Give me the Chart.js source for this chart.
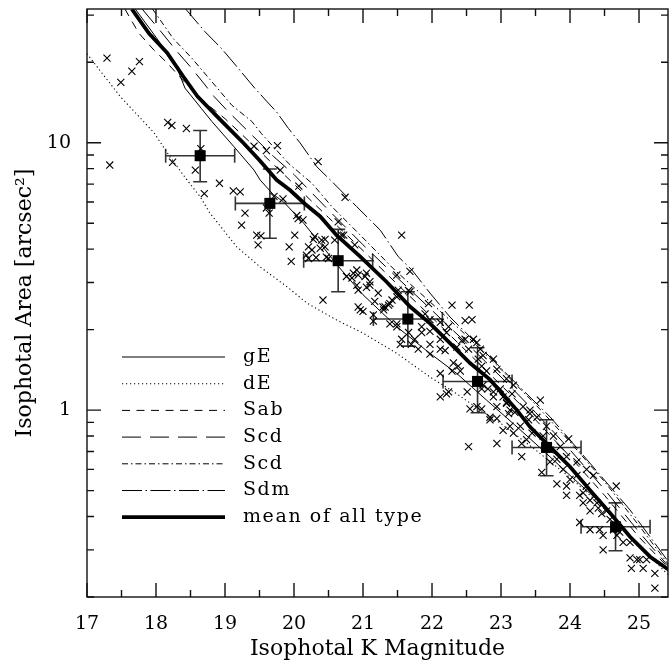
<!DOCTYPE html>
<html>
<head>
<meta charset="utf-8">
<script src="https://cdn.jsdelivr.net/npm/chart.js@4.4.1/dist/chart.umd.min.js"></script>
<style>
  html, body { margin: 0; padding: 0; background: #fff; }
  #wrap { width: 669px; height: 662px; }
</style>
</head>
<body>
<div id="wrap"><canvas id="chart" width="669" height="662"></canvas></div>
<script>
// ---- values ----

// axis ticks
const xTickValues = [17, 17.5, 18, 18.5, 19, 19.5, 20, 20.5, 21, 21.5, 22, 22.5, 23, 23.5, 24, 24.5, 25];
const xLabelled = [17, 18, 19, 20, 21, 22, 23, 24, 25];
const yTickValues = [0.2, 0.3, 0.4, 0.5, 0.6, 0.7, 0.8, 0.9, 1, 2, 3, 4, 5, 6, 7, 8, 9, 10, 20, 30];
const yLabelled = [1, 10];

// legend text, same order as the model curves below
const legendLabels = ['gE', 'dE', 'Sab', 'Scd', 'Scd', 'Sdm', 'mean of all type'];

// model curves: K magnitude vs isophotal area
const gEK = [17.7, 18.0, 18.18, 18.32, 18.42, 18.66, 18.81, 19.13, 19.42, 19.51, 19.7, 19.85, 20.14, 20.38, 20.62, 21.0, 21.49, 21.97, 22.36, 22.79, 23.2, 23.6, 24.0, 24.4, 24.8, 25.1, 25.44];
const gEArea = [31.6, 24.8, 21.3, 18.6, 16.0, 13.4, 12.0, 9.66, 7.9, 7.25, 6.4, 6.0, 5.0, 4.2, 3.5, 2.7, 2.05, 1.63, 1.37, 1.09, 0.88, 0.71, 0.57, 0.46, 0.35, 0.29, 0.25];

const dEK = [17.0, 17.48, 17.97, 18.2, 18.45, 18.64, 18.78, 19.17, 19.51, 19.9, 20.19, 20.62, 21.0, 21.49, 21.97, 22.36, 22.7, 23.0, 23.5, 24.0, 24.5, 25.0, 25.44];
const dEArea = [21.5, 14.9, 10.9, 8.87, 7.25, 6.28, 5.46, 4.08, 3.43, 2.89, 2.51, 2.17, 1.94, 1.63, 1.33, 1.15, 1.0, 0.89, 0.71, 0.56, 0.43, 0.31, 0.24];

const sabK = [17.55, 17.75, 17.97, 18.16, 18.4, 18.7, 19.0, 19.5, 20.0, 20.5, 21.0, 21.5, 22.0, 22.5, 23.0, 23.5, 24.0, 24.5, 25.0, 25.44];
const sabArea = [31.6, 25.7, 22.2, 19.9, 17.0, 14.2, 12.3, 9.3, 7.0, 5.25, 3.95, 2.95, 2.22, 1.66, 1.24, 0.92, 0.67, 0.48, 0.335, 0.255];

const scdLongK = [17.8, 18.1, 18.3, 18.5, 18.69, 18.84, 19.03, 19.37, 19.7, 20.0, 20.5, 21.0, 21.5, 22.0, 22.5, 23.0, 23.5, 24.0, 24.5, 25.0, 25.44];
const scdLongArea = [31.6, 25.5, 22.0, 19.2, 16.7, 14.9, 13.2, 10.8, 8.9, 7.6, 5.6, 4.15, 3.12, 2.36, 1.78, 1.33, 0.98, 0.71, 0.505, 0.35, 0.258];

const scdDotK = [17.95, 18.25, 18.52, 18.81, 19.1, 19.39, 19.53, 19.92, 20.26, 20.55, 20.84, 21.22, 21.46, 22.0, 22.5, 23.0, 23.5, 24.0, 24.5, 25.0, 25.44];
const scdDotArea = [31.6, 24.5, 20.7, 16.9, 13.8, 12.0, 10.8, 8.37, 7.05, 5.76, 4.85, 3.86, 3.34, 2.5, 1.9, 1.42, 1.05, 0.76, 0.54, 0.37, 0.262];

const sdmK = [18.43, 18.71, 18.95, 19.19, 19.43, 19.75, 19.92, 20.09, 20.33, 20.57, 20.91, 21.25, 21.51, 21.71, 21.97, 22.26, 22.55, 22.84, 23.17, 23.71, 24.29, 24.87, 25.16, 25.44];
const sdmArea = [31.6, 26.0, 22.5, 19.0, 16.0, 13.0, 11.3, 9.97, 8.13, 7.07, 5.76, 4.71, 3.75, 3.34, 2.74, 2.23, 1.88, 1.58, 1.295, 0.944, 0.633, 0.423, 0.336, 0.268];

const meanK = [17.65, 17.9, 18.16, 18.4, 18.6, 18.93, 19.27, 19.5, 19.75, 19.94, 20.16, 20.38, 20.62, 20.96, 21.34, 21.68, 21.97, 22.26, 22.55, 22.84, 23.23, 23.42, 23.71, 24.0, 24.29, 24.58, 24.87, 25.16, 25.44];
const meanArea = [31.6, 25.6, 21.7, 17.6, 14.9, 12.2, 9.95, 8.6, 7.25, 6.65, 5.9, 5.3, 4.5, 3.75, 3.02, 2.44, 2.11, 1.78, 1.50, 1.30, 1.0, 0.866, 0.729, 0.614, 0.502, 0.412, 0.336, 0.283, 0.252];

// individual galaxies (crosses)
const crossK = [17.29, 17.49, 17.65, 17.76, 17.33, 18.17, 18.23, 18.44, 18.65, 18.24, 18.57, 18.92, 19.12, 19.22, 18.70, 19.29, 19.24, 19.46, 19.52, 19.42,
  19.60, 19.76, 19.80, 20.07, 19.71, 19.84, 19.60, 19.64, 20.06, 20.13, 20.01, 19.93, 19.96, 20.28, 20.45, 20.26, 20.38, 20.18, 20.32, 20.21,
  20.50, 20.42, 20.35, 19.48, 20.04, 20.40, 20.45, 20.21, 20.47, 20.64, 20.72, 20.76, 20.86, 21.05, 20.91, 21.17, 20.93, 21.29, 20.74, 21.56,
  20.69, 20.88, 21.68, 21.49, 21.22, 21.66, 21.95, 22.29, 22.54, 22.48, 22.58, 20.93, 20.84, 21.03, 21.10, 20.93, 20.96, 21.00, 21.39, 21.32,
  21.15, 21.39, 21.49, 20.30, 20.59, 20.91, 21.05, 21.10, 21.15, 21.30, 21.37, 21.42, 21.49, 21.51, 21.68, 21.49, 21.66, 21.56, 21.54, 21.70,
  21.80, 21.75, 21.85, 21.85, 21.97, 21.90, 21.97, 22.12, 22.12, 22.24, 22.21, 21.97, 21.97, 22.12, 22.19, 22.36, 22.43, 22.48, 22.60, 22.53,
  22.31, 22.38, 22.41, 22.29, 22.12, 22.24, 22.12, 22.51, 22.67, 22.72, 22.79, 22.89, 22.74, 22.81, 22.89, 22.99, 23.03, 23.08, 23.16, 22.94,
  22.55, 22.84, 23.11, 23.20, 22.21, 22.53, 22.94, 23.03, 23.13, 23.18, 23.30, 23.30, 23.57, 23.98, 23.59, 23.81, 23.95, 23.95, 24.14, 24.19,
  24.29, 24.39, 24.67, 24.14, 24.43, 24.48, 24.48, 24.72, 24.77, 24.87, 24.89, 25.06, 25.01, 25.23, 25.23, 22.65, 22.72, 22.72, 23.13, 23.42,
  23.40, 23.61, 23.71, 23.71, 23.81, 23.90, 24.10, 24.24, 24.53, 24.58, 24.63, 24.87, 24.97, 25.11, 24.41, 24.46, 24.29, 24.68, 22.84, 22.94,
  23.28, 23.37, 23.45, 24.00, 24.19, 24.29, 23.08, 23.32, 23.52, 23.66, 23.76, 23.86, 23.95, 24.10, 24.24, 24.34, 22.65, 22.70, 22.74, 22.94,
  23.08, 23.18, 22.89, 23.42];
const crossArea = [20.7, 16.8, 18.5, 20.1, 8.25, 11.9, 11.6, 11.3, 9.5, 8.45, 7.9, 7.05, 6.6, 6.55, 6.45, 5.45, 4.92, 4.51, 4.48, 9.7,
  9.35, 9.75, 7.9, 6.88, 6.3, 6.16, 5.7, 5.45, 5.2, 5.14, 4.51, 4.08, 3.6, 4.35, 4.35, 3.97, 4.03, 3.80, 3.72, 3.69,
  3.69, 2.58, 8.5, 4.15, 5.34, 4.32, 4.08, 4.08, 3.73, 5.06, 4.51, 3.16, 3.25, 3.25, 2.93, 2.55, 2.43, 2.43, 6.25, 4.51,
  4.51, 4.15, 3.3, 3.2, 2.74, 2.8, 2.5, 2.47, 2.47, 2.16, 2.18, 3.2, 3.12, 3.16, 2.93, 2.81, 2.37, 2.34, 2.5, 2.43,
  2.15, 2.1, 2.1, 4.45, 4.32, 3.34, 2.88, 3.02, 2.27, 2.37, 2.47, 2.58, 2.65, 2.81, 2.77, 2.05, 1.95, 1.84, 1.76, 1.76,
  1.69, 1.84, 2.05, 1.95, 2.18, 2.29, 1.97, 2.13, 1.84, 2.05, 1.95, 1.76, 1.62, 1.69, 1.67, 1.72, 1.82, 1.84, 1.84, 1.69,
  1.50, 1.46, 1.40, 1.40, 1.37, 1.17, 1.12, 1.17, 1.55, 1.46, 1.40, 1.55, 1.24, 1.20, 1.17, 1.20, 1.12, 1.07, 1.15, 1.03,
  1.01, 0.94, 0.97, 0.98, 1.15, 0.73, 0.75, 0.84, 0.87, 0.82, 0.67, 0.75, 1.09, 0.78, 0.585, 0.53, 0.52, 0.48, 0.48, 0.45,
  0.42, 0.45, 0.52, 0.38, 0.357, 0.34, 0.30, 0.35, 0.32, 0.28, 0.256, 0.256, 0.276, 0.245, 0.216, 1.03, 1.20, 1.01, 1.0, 0.97,
  0.92, 0.80, 0.71, 0.64, 0.655, 0.60, 0.57, 0.52, 0.42, 0.39, 0.357, 0.32, 0.276, 0.276, 0.43, 0.41, 0.357, 0.34, 0.92, 0.93,
  0.87, 0.775, 0.82, 0.55, 0.49, 0.46, 1.06, 1.03, 0.94, 0.87, 0.80, 0.73, 0.67, 0.64, 0.60, 0.57, 1.79, 1.69, 1.60, 1.42,
  1.31, 1.24, 1.12, 1.0];

// binned means with error bars
const binK = [18.64, 19.65, 20.64, 21.65, 22.66, 23.66, 24.66];
const binArea = [8.94, 5.93, 3.62, 2.19, 1.28, 0.725, 0.366];
const binKErr = [0.5, 0.5, 0.5, 0.5, 0.5, 0.5, 0.5];
const binAreaHi = [11.1, 7.97, 4.74, 2.77, 1.71, 0.92, 0.45];
const binAreaLo = [7.14, 4.39, 2.77, 1.735, 0.977, 0.568, 0.298];

// ---- helpers ----
const FONT = '"DejaVu Serif", "Liberation Serif", serif';

function toPoints(xs, ys) {
  return xs.map((v, i) => ({ x: v, y: ys[i] }));
}

function curve(xs, ys, dash, width) {
  return {
    data: toPoints(xs, ys),
    showLine: true,
    borderColor: '#000',
    borderWidth: width,
    borderDash: dash,
    pointRadius: 0,
    tension: 0,
    fill: false,
    order: width > 2 ? 1 : 2
  };
}

const curveSets = [
  curve(gEK, gEArea, [], 1),
  curve(dEK, dEArea, [1.2, 2.8], 1.1),
  curve(sabK, sabArea, [8, 6.5], 1),
  curve(scdLongK, scdLongArea, [19, 9], 1),
  curve(scdDotK, scdDotArea, [6, 3, 1.5, 3], 1),
  curve(sdmK, sdmArea, [20, 3.5, 1.5, 3.5], 1),
  curve(meanK, meanArea, [], 3.8)
];

const crossSet = {
  data: toPoints(crossK, crossArea),
  pointStyle: 'crossRot',
  pointRadius: 5,
  borderColor: '#000',
  borderWidth: 1.1,
  showLine: false,
  order: 3
};

const binSet = {
  data: toPoints(binK, binArea),
  pointStyle: 'rect',
  pointRadius: 7.8,
  backgroundColor: '#000',
  borderColor: '#000',
  borderWidth: 0,
  showLine: false,
  order: 0
};

// error bars on the binned means, through the chart scales
const errorBars = {
  id: 'errorBars',
  beforeDatasetsDraw(chart) {
    const { ctx, scales: { x, y } } = chart;
    const cap = 7;
    ctx.save();
    ctx.strokeStyle = '#333';
    ctx.lineWidth = 1.6;
    ctx.beginPath();
    binK.forEach((k, i) => {
      const cx = x.getPixelForValue(k);
      const cy = y.getPixelForValue(binArea[i]);
      const xl = x.getPixelForValue(k - binKErr[i]);
      const xr = x.getPixelForValue(k + binKErr[i]);
      const yt = y.getPixelForValue(binAreaHi[i]);
      const yb = y.getPixelForValue(binAreaLo[i]);
      ctx.moveTo(xl, cy); ctx.lineTo(xr, cy);
      ctx.moveTo(xl, cy - cap); ctx.lineTo(xl, cy + cap);
      ctx.moveTo(xr, cy - cap); ctx.lineTo(xr, cy + cap);
      ctx.moveTo(cx, yt); ctx.lineTo(cx, yb);
      ctx.moveTo(cx - cap, yt); ctx.lineTo(cx + cap, yt);
      ctx.moveTo(cx - cap, yb); ctx.lineTo(cx + cap, yb);
    });
    ctx.stroke();
    ctx.restore();
  }
};

// box round the plot with inward ticks on all four sides
const frameTicks = {
  id: 'frameTicks',
  afterDatasetsDraw(chart) {
    const { ctx, chartArea: a, scales: { x, y } } = chart;
    ctx.save();
    ctx.strokeStyle = '#111';
    ctx.lineWidth = 1.4;
    ctx.beginPath();
    xTickValues.forEach(v => {
      const px = x.getPixelForValue(v);
      const len = xLabelled.includes(v) ? 14 : 7;
      ctx.moveTo(px, a.bottom); ctx.lineTo(px, a.bottom - len);
      ctx.moveTo(px, a.top); ctx.lineTo(px, a.top + len);
    });
    yTickValues.forEach(v => {
      const py = y.getPixelForValue(v);
      const len = yLabelled.includes(v) ? 14 : 7;
      ctx.moveTo(a.left, py); ctx.lineTo(a.left + len, py);
      ctx.moveTo(a.right, py); ctx.lineTo(a.right - len, py);
    });
    ctx.stroke();
    ctx.strokeRect(a.left, a.top, a.right - a.left, a.bottom - a.top);
    ctx.restore();
  }
};

// legend sitting inside the lower-left of the plot
const inlineLegend = {
  id: 'inlineLegend',
  afterDraw(chart) {
    const { ctx, chartArea: a } = chart;
    ctx.save();
    ctx.font = '19px ' + FONT;
    ctx.letterSpacing = '1.6px';
    ctx.textBaseline = 'middle';
    ctx.fillStyle = '#000';
    ctx.strokeStyle = '#000';
    curveSets.forEach((ds, i) => {
      const yy = a.top + 348 + i * 26.7;
      ctx.beginPath();
      ctx.setLineDash(ds.borderDash);
      ctx.lineWidth = ds.borderWidth;
      ctx.moveTo(a.left + 35, yy);
      ctx.lineTo(a.left + 138, yy);
      ctx.stroke();
      ctx.setLineDash([]);
      ctx.fillText(legendLabels[i], a.left + 156, yy);
    });
    ctx.restore();
  }
};

new Chart(document.getElementById('chart'), {
  type: 'scatter',
  data: { datasets: [...curveSets, crossSet, binSet] },
  options: {
    responsive: false,
    animation: false,
    devicePixelRatio: 1,
    layout: { autoPadding: false, padding: { top: 9, right: 1, left: 0, bottom: 0 } },
    plugins: { legend: { display: false }, tooltip: { enabled: false } },
    scales: {
      x: {
        type: 'linear',
        min: 17,
        max: 25.42,
        grid: { display: false, drawTicks: false },
        border: { display: false },
        afterBuildTicks: s => { s.ticks = xTickValues.map(v => ({ value: v })); },
        afterFit: s => { s.height = 65; s.paddingLeft = 0; s.paddingRight = 0; },
        ticks: {
          autoSkip: false,
          maxRotation: 0,
          padding: 16,
          color: '#000',
          font: { family: FONT, size: 19 },
          callback: v => xLabelled.includes(v) ? String(v) : ''
        },
        title: {
          display: true,
          text: 'Isophotal K Magnitude',
          color: '#000',
          font: { family: FONT, size: 22 },
          padding: { top: 0, bottom: 0 }
        }
      },
      y: {
        type: 'logarithmic',
        min: 0.2,
        max: 31.62,
        grid: { display: false, drawTicks: false },
        border: { display: false },
        afterBuildTicks: s => { s.ticks = yTickValues.map(v => ({ value: v })); },
        afterFit: s => { s.width = 87; s.paddingTop = 0; s.paddingBottom = 0; },
        ticks: {
          autoSkip: false,
          padding: 16,
          color: '#000',
          font: { family: FONT, size: 19 },
          callback: v => yLabelled.includes(v) ? String(v) : ''
        },
        title: {
          display: true,
          text: 'Isophotal Area [arcsec²]',
          color: '#000',
          font: { family: FONT, size: 22 },
          padding: { top: 12, bottom: 0 }
        }
      }
    }
  },
  plugins: [errorBars, frameTicks, inlineLegend]
});
</script>
</body>
</html>
